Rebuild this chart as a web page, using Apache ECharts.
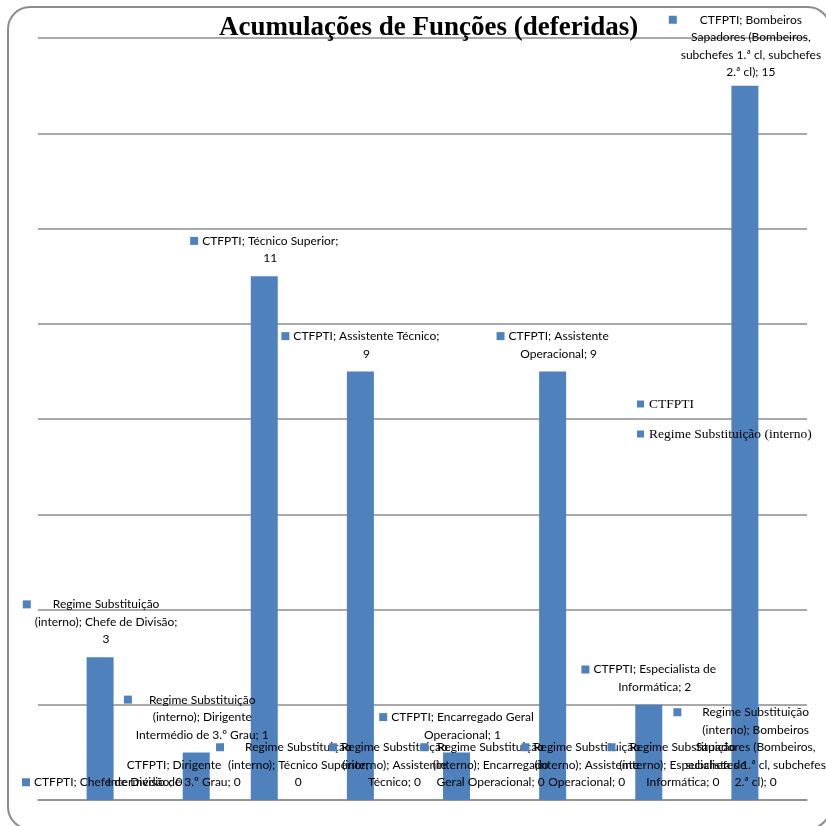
<!DOCTYPE html>
<html>
<head>
<meta charset="utf-8">
<script src="https://cdn.jsdelivr.net/npm/echarts@6/dist/echarts.min.js"></script>
<style>
  html, body { margin: 0; padding: 0; background: #fff; }
  #chart { width: 826px; height: 826px; }
</style>
</head>
<body>
<div id="chart"></div>
<script>
// data
const titleText = 'Acumulações de Funções (deferidas)';
const categories = [
    'Chefe de Divisão',
    'Dirigente Intermédio de 3.º Grau',
    'Técnico Superior',
    'Assistente Técnico',
    'Encarregado Geral Operacional',
    'Assistente Operacional',
    'Especialista de Informática',
    'Bombeiros Sapadores (Bombeiros, subchefes 1.ª cl, subchefes 2.ª cl)'
];
const seriesNames = ['CTFPTI', 'Regime Substituição (interno)'];
const ctfptiValues = [0, 0, 11, 9, 1, 9, 2, 15];
const regimeValues = [3, 1, 0, 0, 0, 0, 0, 0];

// wrap width of each data label (px), like the boxes Excel made
const ctfptiWrap = [170, 135, 142, 150, 145, 105, 125, 145];
const regimeWrap = [150, 140, 148, 120, 125, 115, 135, 145];

const BLUE = '#4F81BD';
const GRID = '#8c8c8c';
const LABEL_FONT = '12px Lato';
const LH = 17.5;

const ctx = document.createElement('canvas').getContext('2d');
ctx.font = LABEL_FONT;

function wrap(text, maxW) {
    const words = text.split(' ');
    const lines = [];
    let cur = '';
    words.forEach(function (w) {
        const test = cur ? cur + ' ' + w : w;
        if (cur && ctx.measureText(test).width > maxW) {
            lines.push(cur);
            cur = w;
        } else {
            cur = test;
        }
    });
    if (cur) lines.push(cur);
    return lines;
}

const rich = {
    m: { width: 8, height: 8, backgroundColor: BLUE, lineHeight: LH },
    g: { width: 4, lineHeight: LH },
    s: { width: 12, lineHeight: LH }
};

function buildLabel(name, cat, val, maxW) {
    const lines = wrap(name + '; ' + cat + '; ' + val, maxW);
    const widths = lines.map(function (l) { return ctx.measureText(l).width; });
    const W = Math.max.apply(null, widths);
    const pad = Math.round((W - widths[0]) / 2);
    let first = '{m|}{g|}';
    if (pad > 0) {
        rich['p' + pad] = { width: pad, lineHeight: LH };
        first += '{p' + pad + '|}' + lines[0] + '{p' + pad + '|}';
    } else {
        first += lines[0];
    }
    const rest = lines.slice(1).map(function (l) { return '{s|}' + l; });
    return [first].concat(rest).join('\n');
}

const ctfptiLabels = ctfptiValues.map(function (v, i) {
    return buildLabel(seriesNames[0], categories[i], v, ctfptiWrap[i]);
});
const regimeLabels = regimeValues.map(function (v, i) {
    return buildLabel(seriesNames[1], categories[i], v, regimeWrap[i]);
});

const labelBase = {
    show: true,
    position: 'top',
    distance: 9,
    align: 'center',
    fontFamily: 'Lato',
    fontSize: 12,
    lineHeight: LH,
    color: '#000',
    rich: rich
};

const chart = echarts.init(document.getElementById('chart'), null, { renderer: 'canvas' });

chart.setOption({
    backgroundColor: '#fff',
    animation: false,
    title: {
        text: titleText,
        left: 219,
        top: 15,
        padding: 0,
        textStyle: {
            fontFamily: 'Liberation Serif',
            fontWeight: 'bold',
            fontSize: 27,
            color: '#000'
        }
    },
    legend: {
        orient: 'vertical',
        left: 637,
        top: 397,
        padding: 0,
        itemGap: 16,
        icon: 'rect',
        itemWidth: 7,
        itemHeight: 7,
        textStyle: { fontFamily: 'Liberation Serif', fontSize: 13.5, color: '#000' },
        data: seriesNames
    },
    grid: { left: 38, right: 19, top: 38, bottom: 26 },
    xAxis: {
        type: 'category',
        data: categories,
        axisLine: { lineStyle: { color: GRID, width: 1.5 } },
        axisTick: { show: false },
        axisLabel: { show: false }
    },
    yAxis: {
        type: 'value',
        min: 0,
        max: 16,
        interval: 2,
        axisLabel: { show: false },
        axisLine: { show: false },
        axisTick: { show: false },
        splitLine: { lineStyle: { color: GRID, width: 1.5 } }
    },
    labelLayout: function (params) {
        const r = params.labelRect;
        const out = {};
        if (r.x < 22) out.dx = 22 - r.x;
        else if (r.x + r.width > 826) out.dx = 826 - r.x - r.width;
        if (r.y < 11) out.dy = 11 - r.y;
        return out;
    },
    graphic: [{
        type: 'rect',
        z: 100,
        silent: true,
        shape: { x: 8, y: 7, width: 822, height: 822, r: 22 },
        style: { fill: 'none', stroke: GRID, lineWidth: 2 }
    }],
    series: [
        {
            name: seriesNames[0],
            type: 'bar',
            data: ctfptiValues,
            barWidth: 27,
            barGap: '4%',
            itemStyle: { color: BLUE },
            label: Object.assign({}, labelBase, {
                formatter: function (p) { return ctfptiLabels[p.dataIndex]; }
            })
        },
        {
            name: seriesNames[1],
            type: 'bar',
            data: regimeValues,
            barWidth: 27,
            itemStyle: { color: BLUE },
            label: Object.assign({}, labelBase, {
                formatter: function (p) { return regimeLabels[p.dataIndex]; }
            })
        }
    ]
});
</script>
</body>
</html>
